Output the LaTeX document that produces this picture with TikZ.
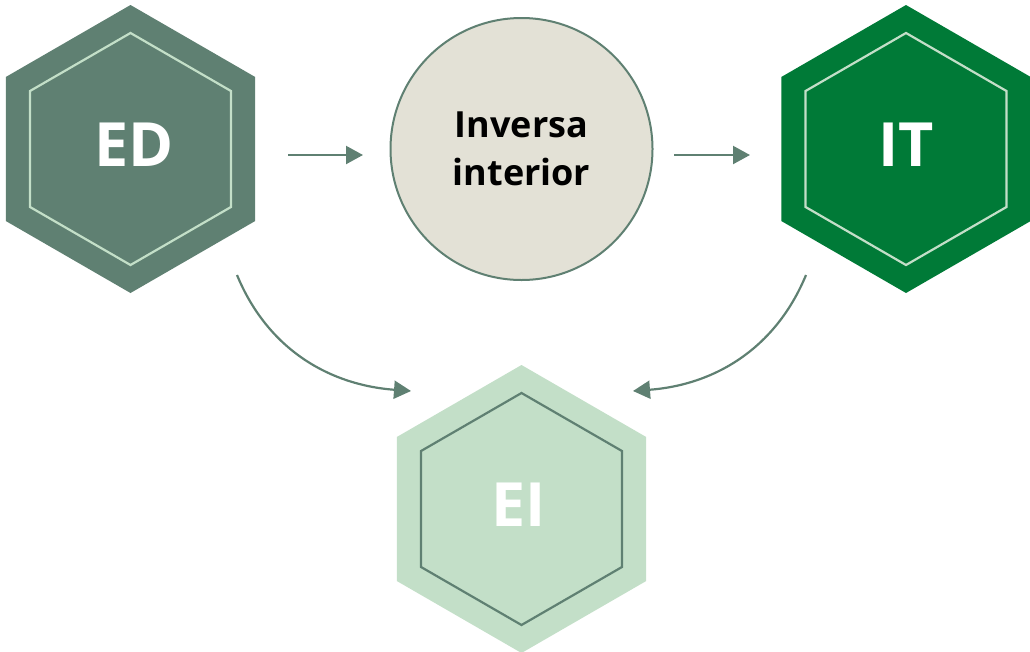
\documentclass[tikz,border=0pt]{standalone}
\usepackage{fontspec}
\setmainfont{Open Sans}
\usetikzlibrary{shapes.geometric,arrows.meta}
\definecolor{sage}{HTML}{5F8072}
\definecolor{mint}{HTML}{C3DFC8}
\definecolor{forest}{HTML}{007A37}
\definecolor{paper}{HTML}{E3E1D6}
\tikzset{
  hexout/.style={regular polygon,regular polygon sides=6,shape border rotate=30,
    minimum size=288pt,inner sep=0pt,outer sep=0pt},
  hexin/.style={regular polygon,regular polygon sides=6,shape border rotate=30,
    minimum size=232pt,inner sep=0pt,outer sep=0pt,line width=2.2pt},
  biglabel/.style={font=\bfseries\fontsize{61}{61}\selectfont,text=white},
  conn/.style={draw=sage,line width=2.2pt,-{Triangle[length=17pt,width=18pt]}},
}
\begin{document}
\begin{tikzpicture}[x=1pt,y=-1pt]
\useasboundingbox (0,0) rectangle (1030,651);
\clip (0,0) rectangle (1030,651);
% ED
\node[hexout,fill=sage] (ED) at (130.5,149) {};
\node[hexin,draw=mint] (EDi) at (130.5,149) {};
\node[biglabel] (EDt) at (134,145) {ED};
% IT
\node[hexout,fill=forest] (IT) at (906,149) {};
\node[hexin,draw=mint] (ITi) at (906,149) {};
\node[biglabel] (ITt) at (906,145) {IT};
% EI
\node[hexout,fill=mint] (EI) at (521.5,509) {};
\node[hexin,draw=sage] (EIi) at (521.5,509) {};
\node[biglabel] (EIt) at (519,505) {EI};
% circle
\node[circle,fill=paper,draw=sage,line width=2pt,minimum size=262pt,inner sep=0pt,
  align=center,font=\bfseries\fontsize{36}{48}\selectfont] (IN) at (521.5,149) {Inversa\\interior};
% connectors
\coordinate (a1) at (288,155);
\coordinate (a2) at (363,155);
\coordinate (b1) at (674,155);
\coordinate (b2) at (750,155);
\draw[conn] (a1) -- (a2);
\draw[conn] (b1) -- (b2);
\coordinate (c1) at (237,275);
\coordinate (c2) at (411,391);
\coordinate (d1) at (806,275);
\coordinate (d2) at (633,391);
\draw[conn] (c1) .. controls (268,350) and (330,385) .. (c2);
\draw[conn] (d1) .. controls (775,350) and (713,385) .. (d2);
\end{tikzpicture}
\end{document}
